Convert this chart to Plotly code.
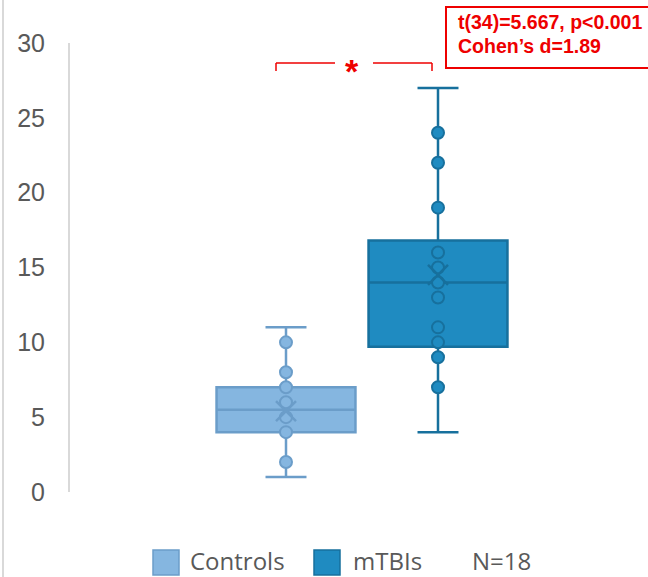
import plotly.graph_objects as go

# ---- data ----
groups = ["Controls", "mTBIs"]
q1 = [4.0, 9.7]
median = [5.5, 14.0]
q3 = [7.0, 16.8]
lower = [1.0, 4.0]
upper = [11.0, 27.0]
means = [5.4, 14.5]
controls_points = [2, 4, 5, 6, 7, 8, 10]
mtbi_points = [7, 9, 10, 11, 13, 14, 15, 16, 19, 22, 24]
y_ticks = [0, 5, 10, 15, 20, 25, 30]
stat_lines = ["t(34)=5.667, p<0.001", "Cohen’s d=1.89"]
n_label = "N=18"

fills = ["#85b6e0", "#1f8bc1"]
edges = ["#6b9dc9", "#17709d"]
RED = "#ee0000"
GRAY = "#595959"

W, H = 648, 577
L, R, T, B = 70, 0, 43, 85
PW, PH = W - L - R, H - T - B


def px(x):
    return (x - L) / PW


def py(y):
    return (H - B - y) / PH


fig = go.Figure()
pts = [controls_points, mtbi_points]
for i, g in enumerate(groups):
    fig.add_trace(go.Box(
        x=[i], q1=[q1[i]], median=[median[i]], q3=[q3[i]],
        lowerfence=[lower[i]], upperfence=[upper[i]],
        name=g, fillcolor=fills[i], line=dict(color=edges[i], width=2.5),
        width=0.914, whiskerwidth=0.295, boxpoints=False, showlegend=False,
        hoverinfo="skip"))
for i, g in enumerate(groups):
    fig.add_trace(go.Scatter(
        x=[i] * len(pts[i]), y=pts[i], mode="markers", showlegend=False,
        marker=dict(size=12, color=fills[i], line=dict(color=edges[i], width=2))))
    fig.add_trace(go.Scatter(
        x=[i], y=[means[i]], mode="markers", showlegend=False,
        marker=dict(size=20, symbol="x-thin-open", color=edges[i],
                    line=dict(color=edges[i], width=2.5))))

shapes = []
# chart area left border
shapes.append(dict(type="line", xref="paper", yref="paper",
                   x0=px(3), x1=px(3), y0=py(0), y1=py(577),
                   line=dict(color="#d9d9d9", width=2)))


def d(x):
    return (x - 362) / 152 + 0.5


# significance bracket (pixel positions)
for (a, b) in [(276, 335), (373, 432)]:
    shapes.append(dict(type="line", xref="paper", yref="paper",
                       x0=px(a), x1=px(b), y0=py(63), y1=py(63),
                       line=dict(color=RED, width=1.5)))
for a in (276, 432):
    shapes.append(dict(type="line", xref="paper", yref="paper",
                       x0=px(a), x1=px(a), y0=py(63), y1=py(71),
                       line=dict(color=RED, width=1.5)))
# stats box
shapes.append(dict(type="rect", xref="paper", yref="paper",
                   x0=px(446), x1=px(665), y0=py(68), y1=py(7),
                   line=dict(color=RED, width=2)))
# legend squares
for x0, c, e in [(153, fills[0], edges[0]), (314, fills[1], edges[1])]:
    shapes.append(dict(type="rect", xref="paper", yref="paper",
                       x0=px(x0), x1=px(x0 + 26), y0=py(575), y1=py(550),
                       fillcolor=c, line=dict(color=e, width=1.5)))

ann = []
ann.append(dict(text="<b>*</b>", xref="paper", yref="paper", x=px(352), y=py(71),
                xanchor="center", yanchor="middle", showarrow=False,
                font=dict(family="Liberation Sans", size=34, color=RED)))
for k, s in enumerate(stat_lines):
    ann.append(dict(text="<b>%s</b>" % s, xref="paper", yref="paper",
                    x=px(456), y=py(22 + 24 * k), xanchor="left", yanchor="middle",
                    showarrow=False,
                    font=dict(family="Liberation Sans", size=19.5, color=RED)))
for x0, s in [(188, groups[0]), (351, groups[1]), (470, n_label)]:
    ann.append(dict(text=s, xref="paper", yref="paper", x=px(x0), y=py(560),
                    xanchor="left", yanchor="middle", showarrow=False,
                    font=dict(family="Open Sans", size=24, color=GRAY)))

fig.update_layout(
    width=W, height=H, margin=dict(l=L, r=R, t=T, b=B),
    paper_bgcolor="white", plot_bgcolor="white",
    shapes=shapes, annotations=ann, showlegend=False,
    xaxis=dict(range=[d(L), d(W)], showticklabels=False, showgrid=False,
               zeroline=False, showline=False, ticks=""),
    yaxis=dict(range=[0, 30], tickvals=y_ticks, showgrid=False, zeroline=False,
               showline=True, linecolor="#d9d9d9", linewidth=2, ticks="",
               ticklabelstandoff=18,
               tickfont=dict(family="Liberation Sans", size=25, color=GRAY)),
)

fig.write_html("out.html")
